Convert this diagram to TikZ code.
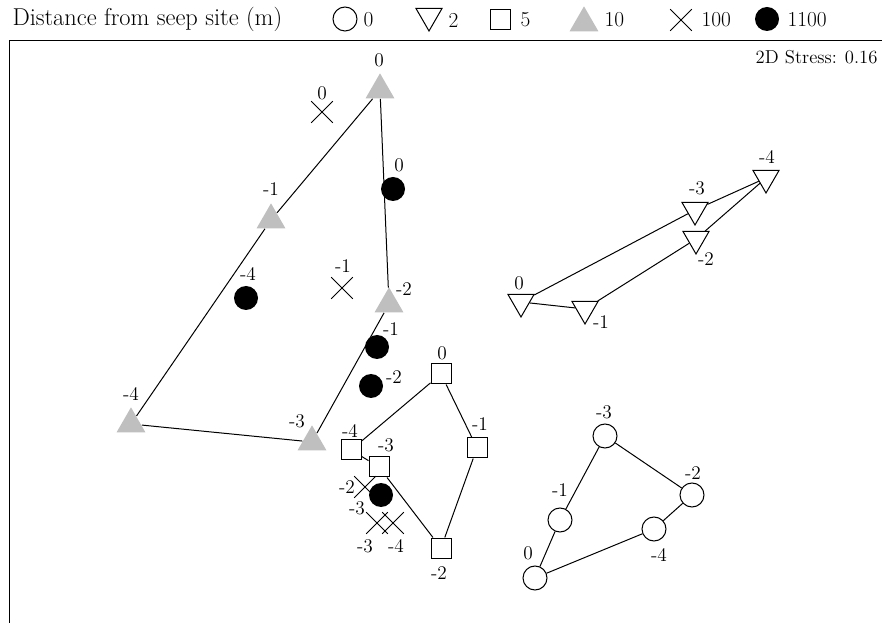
\documentclass[tikz,border=0pt]{standalone}
\usepackage{fontspec}
\usetikzlibrary{shapes.geometric,shapes.misc}

\tikzset{every picture/.style={line width=0.75pt}}
\tikzset{
  site0/.style={circle,draw,fill=white,inner sep=0pt,minimum size=18pt},
  site2/.style={regular polygon,regular polygon sides=3,shape border rotate=180,draw,fill=white,inner sep=0pt,minimum size=22.5pt},
  site5/.style={rectangle,draw,fill=white,inner sep=0pt,minimum size=15pt},
  site10/.style={regular polygon,regular polygon sides=3,fill=gray!50,inner sep=0pt,minimum size=25pt},
  site100/.style={cross out,draw,inner sep=0pt,minimum size=15.5pt},
  site1100/.style={circle,fill=black,inner sep=0pt,minimum size=18pt},
  lbl/.style={inner sep=0.75pt,font=\fontsize{14.5}{17}\selectfont},
  keytext/.style={inner sep=0.75pt,font=\fontsize{16}{18}\selectfont},
}

\begin{document}
\begin{tikzpicture}[x=0.75pt,y=0.75pt,yscale=-1,xscale=1]
\useasboundingbox (0,0) rectangle (882,623);

% Legend
\node (title) [keytext,anchor=west,font=\fontsize{18.3}{21}\selectfont] at (11,19) {Distance from seep site (m)};
\node (k0) [site0] at (345,19) {};
\node (k0t) [keytext,anchor=west] at (362,20) {0};
\node (k2) [site2] at (429,16) {};
\node (k2t) [keytext,anchor=west] at (447,20) {2};
\node (k5) [site5] at (500,20) {};
\node (k5t) [keytext,anchor=west] at (519,20) {5};
\node (k10) [site10] at (584,23) {};
\node (k10t) [keytext,anchor=west] at (603,20) {10};
\node (k100) [site100] at (681,20) {};
\node (k100t) [keytext,anchor=west] at (700,20) {100};
\node (k1100) [site1100] at (767,19) {};
\node (k1100t) [keytext,anchor=west] at (786,20) {1100};

% Frame
\draw (9,41) -- (882,41);
\draw (9,41) -- (9,623);
\node (stress) [inner sep=0.75pt,anchor=east,font=\fontsize{14}{16}\selectfont] at (879,57) {2D Stress: 0.16};

% 10 m
\node (g0) [site10] at (380,90) {};
\node (g1) [site10] at (271,220) {};
\node (g2) [site10] at (389,304) {};
\node (g3) [site10] at (312,442) {};
\node (g4) [site10] at (131,424) {};
\draw (g0) -- (g1) -- (g4) -- (g3) -- (g2) -- (g0);

% 2 m
\node (w0) [site2] at (521,302) {};
\node (w1) [site2] at (585,309) {};
\node (w2) [site2] at (696,239) {};
\node (w3) [site2] at (695,210) {};
\node (w4) [site2] at (766,178) {};
\draw (w0) -- (w1) -- (w2) -- (w4) -- (w3) -- (w0);

% 0 m
\node (o0) [site0] at (535,578) {};
\node (o1) [site0] at (560,520) {};
\node (o2) [site0] at (692,495) {};
\node (o3) [site0] at (605,436) {};
\node (o4) [site0] at (654,529) {};
\draw (o0) -- (o1) -- (o3) -- (o2) -- (o4) -- (o0);

% 5 m
\node (s0) [site5] at (441,374) {};
\node (s1) [site5] at (477,448) {};
\node (s2) [site5] at (441,548) {};
\node (s3) [site5] at (379,467) {};
\node (s4) [site5] at (351,450) {};
\draw (s0) -- (s1) -- (s2) -- (s3) -- (s4) -- (s0);

% 100 m
\node (x0) [site100] at (322,112) {};
\node (x1) [site100] at (342,288) {};
\node (x2) [site100] at (365,487) {};
\node (x3) [site100] at (377,523) {};
\node (x4) [site100] at (393,523) {};

% 1100 m
\node (b0) [site1100] at (393,189) {};
\node (b1) [site1100] at (377,347) {};
\node (b2) [site1100] at (371,386) {};
\node (b3) [site1100] at (381,495) {};
\node (b4) [site1100] at (246,298) {};

% Text Node
\node (g0t) [lbl] at (379,60) {0};
\node (g1t) [lbl] at (271,189) {-1};
\node (g2t) [lbl] at (404,289) {-2};
\node (g3t) [lbl] at (297,421) {-3};
\node (g4t) [lbl] at (131,394) {-4};
\node (w0t) [lbl] at (519,283) {0};
\node (w1t) [lbl] at (601,322) {-1};
\node (w2t) [lbl] at (706,259) {-2};
\node (w3t) [lbl] at (697,188) {-3};
\node (w4t) [lbl] at (767,157) {-4};
\node (o0t) [lbl] at (528,553) {0};
\node (o1t) [lbl] at (560,490) {-1};
\node (o2t) [lbl] at (693,473) {-2};
\node (o3t) [lbl] at (604,412) {-3};
\node (o4t) [lbl] at (659,555) {-4};
\node (s0t) [lbl] at (442,353) {0};
\node (s1t) [lbl] at (480,424) {-1};
\node (s2t) [lbl] at (439,573) {-2};
\node (s3t) [lbl] at (386,445) {-3};
\node (s4t) [lbl] at (350,431) {-4};
\node (x0t) [lbl] at (322,93) {0};
\node (x1t) [lbl] at (343,266) {-1};
\node (x2t) [lbl] at (347,487) {-2};
\node (x3t) [lbl] at (365,546) {-3};
\node (x4t) [lbl] at (396,546) {-4};
\node (b0t) [lbl] at (399,165) {0};
\node (b1t) [lbl] at (391,329) {-1};
\node (b2t) [lbl] at (394,377) {-2};
\node (b3t) [lbl] at (357,508) {-3};
\node (b4t) [lbl] at (248,274) {-4};

\end{tikzpicture}
\end{document}
